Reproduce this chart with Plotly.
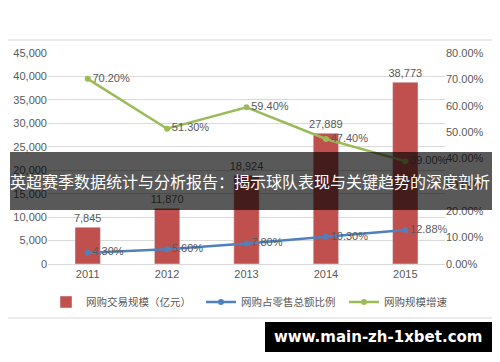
import plotly.graph_objects as go

years = ["2011", "2012", "2013", "2014", "2015"]
trade_scale = [7845, 11870, 18924, 27889, 38773]
share_ratio = [0.043, 0.056, 0.078, 0.103, 0.1288]
growth_rate = [0.702, 0.513, 0.594, 0.474, 0.390]

left_ticks = [0, 5000, 10000, 15000, 20000, 25000, 30000, 35000, 40000, 45000]
right_ticks = [0, 0.1, 0.2, 0.3, 0.4, 0.5, 0.6, 0.7, 0.8]

title_text = "英超赛季数据统计与分析报告：揭示球队表现与关键趋势的深度剖析"
watermark = "www.main-zh-1xbet.com"

FONT = "Liberation Sans, Noto Sans CJK SC, sans-serif"
CJK = "Noto Sans CJK SC, sans-serif"
GRAY = "#595959"

# the page body adds an 8px offset; figure is sized to fill the rest of the window
O = 8
W, H = 500 - O, 362 - O

fig = go.Figure()
fig.add_trace(go.Bar(
    x=years, y=trade_scale, name="网购交易规模（亿元）", legend="legend",
    marker_color="#C0504D", width=0.32,
    text=[f"{v:,}" for v in trade_scale], textposition="outside", constraintext="none",
    textfont=dict(color=GRAY, size=11, family=FONT), cliponaxis=False,
))
fig.add_trace(go.Scatter(
    x=years, y=share_ratio, name="网购占零售总额比例", yaxis="y2", legend="legend2",
    mode="lines+markers+text", line=dict(color="#4F81BD", width=2.5),
    marker=dict(size=6, color="#4F81BD"),
    text=[f"{v*100:.2f}%" for v in share_ratio], textposition="middle right",
    textfont=dict(color=GRAY, size=11, family=FONT), cliponaxis=False,
))
fig.add_trace(go.Scatter(
    x=years, y=growth_rate, name="网购规模增速", yaxis="y2", legend="legend3",
    mode="lines+markers+text", line=dict(color="#9BBB59", width=2.5),
    marker=dict(size=6, color="#9BBB59"),
    text=[f"{v*100:.2f}%" for v in growth_rate], textposition="middle right",
    textfont=dict(color=GRAY, size=11, family=FONT), cliponaxis=False,
))

# plot area in window pixels: x 48..445, y 53..264
L = 48 - O
T = 53 - O
R = W - (445 - O)
B = H - (264 - O)
pw, ph = W - L - R, H - T - B

def px(x):
    return (x - O - L) / pw

def py(y):
    return (H - B - (y - O)) / ph

shapes = [
    dict(type="rect", xref="paper", yref="paper", x0=px(1), x1=px(497), y0=py(318), y1=py(40),
         line=dict(color="#D9D9D9", width=1), fillcolor="rgba(0,0,0,0)", layer="below"),
    dict(type="rect", xref="paper", yref="paper", x0=px(10), x1=px(492), y0=py(210), y1=py(152),
         line=dict(width=0), fillcolor="rgba(0,0,0,0.65)", layer="above"),
    dict(type="rect", xref="paper", yref="paper", x0=px(265), x1=px(492), y0=py(352), y1=py(322),
         line=dict(width=0), fillcolor="#000000", layer="above"),
]
annotations = [
    dict(xref="paper", yref="paper", x=px(250), y=py(181), text=title_text, showarrow=False,
         font=dict(color="white", size=16, family=CJK), xanchor="center", yanchor="middle"),
    dict(xref="paper", yref="paper", x=px(378), y=py(337), text="<b>" + watermark + "</b>", showarrow=False,
         font=dict(color="white", size=15, family="DejaVu Sans, sans-serif"), xanchor="center", yanchor="middle"),
]

def legend_at(xpix):
    return dict(orientation="h", x=px(xpix), xanchor="left", y=py(302), yanchor="middle",
                font=dict(size=10.5, family=CJK, color=GRAY), itemwidth=30,
                bgcolor="rgba(0,0,0,0)")

fig.update_layout(
    width=W, height=H, margin=dict(l=L, r=R, t=T, b=B, autoexpand=False),
    paper_bgcolor="white", plot_bgcolor="white",
    font=dict(family=FONT, color=GRAY, size=10),
    xaxis=dict(showgrid=False, showline=True, linecolor="#D9D9D9", ticks="",
               tickfont=dict(size=11, color=GRAY)),
    yaxis=dict(range=[0, 45000], tickvals=left_ticks, tickformat=",", showgrid=True,
               gridcolor="#D9D9D9", zeroline=False, ticks="", tickfont=dict(size=11, color=GRAY)),
    yaxis2=dict(range=[0, 0.8], tickvals=right_ticks, tickformat=".2%", overlaying="y", side="right",
                showgrid=False, zeroline=False, ticks="", tickfont=dict(size=11, color=GRAY)),
    legend=legend_at(46),
    legend2=legend_at(201),
    legend3=legend_at(344),
    showlegend=True,
    shapes=shapes, annotations=annotations,
)

fig.write_html("out.html")
